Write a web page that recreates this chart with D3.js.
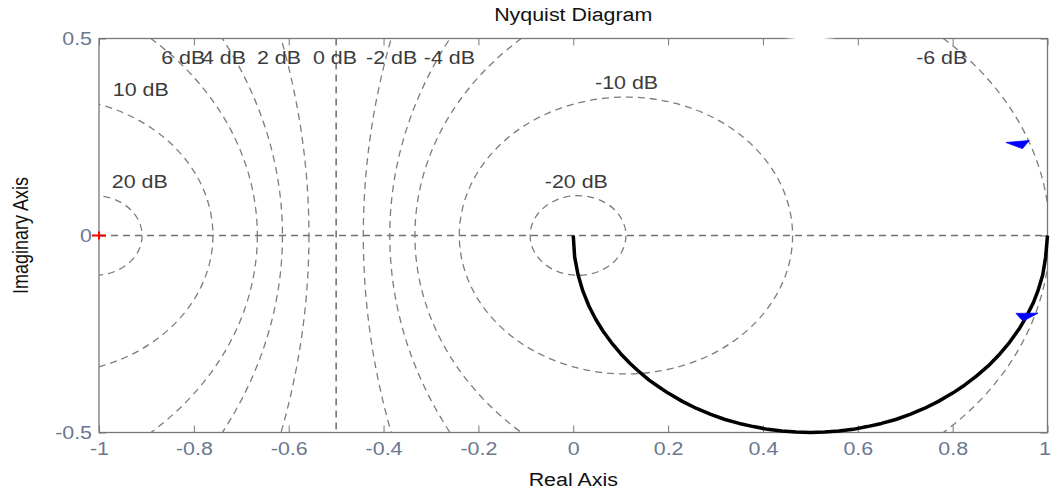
<!DOCTYPE html>
<html>
<head>
<meta charset="utf-8">
<script src="https://cdn.jsdelivr.net/npm/d3@7"></script>
<style>
  body { margin: 0; background: #fff; }
  svg { display: block; }
  text { font-family: "Liberation Sans", Arial, sans-serif; }
</style>
</head>
<body>
<svg id="chart" width="1051" height="495"></svg>
<script>
// Nyquist diagram with M-circle grid (constant closed-loop gain, dB)

// grid levels
const mCircleDb = [20, 10, 6, 4, 2, 0, -2, -4, -6, -10, -20];
const mCircleLabels = ['20 dB', '10 dB', '6 dB', '4 dB', '2 dB', '0 dB', '-2 dB', '-4 dB', '-6 dB', '-10 dB', '-20 dB'];
// where each label sits (left/middle of the text, in axis units)
const labelRe = [-0.973, -0.971, -0.869, -0.783, -0.667, -0.549, -0.437, -0.315, 0.723, 0.046, -0.060];
const labelIm = [0.136, 0.369, 0.451, 0.451, 0.451, 0.451, 0.451, 0.451, 0.451, 0.387, 0.136];

// frequency response (positive frequencies)
const curveRe = [0, 0.003, 0.01, 0.02, 0.033, 0.047, 0.063, 0.08, 0.1, 0.12, 0.14, 0.16, 0.18, 0.2,
                 0.23, 0.26, 0.29, 0.32, 0.35, 0.38, 0.41, 0.44, 0.47, 0.5, 0.53, 0.56, 0.59, 0.62,
                 0.65, 0.68, 0.71, 0.74, 0.77, 0.8, 0.825, 0.85, 0.875, 0.9, 0.92, 0.94, 0.955,
                 0.97, 0.98, 0.99, 0.996, 1.0];
const curveIm = [0, -0.055, -0.099, -0.14, -0.179, -0.212, -0.243, -0.271, -0.3, -0.325, -0.347, -0.367, -0.384, -0.4,
                 -0.421, -0.439, -0.454, -0.467, -0.477, -0.485, -0.492, -0.496, -0.499, -0.5, -0.499, -0.496, -0.492, -0.485,
                 -0.477, -0.467, -0.454, -0.439, -0.421, -0.4, -0.38, -0.357, -0.331, -0.3, -0.271, -0.2375, -0.207,
                 -0.171, -0.14, -0.0995, -0.055, 0];

// direction arrows (centre points)
const arrowRe = [0.9405, 0.954];
const arrowIm = [0.2325, -0.204];
const arrowShapes = [
  [[-13.3, -1.4], [10, -3.4], [3.2, 4.7]],
  [[-9.7, -2.5], [12.3, -2.7], [-2.7, 5.2]]
];

// critical point
const critRe = -1, critIm = 0;

const xTicks = [-1, -0.8, -0.6, -0.4, -0.2, 0, 0.2, 0.4, 0.6, 0.8, 1];
const yTicks = [-0.5, 0, 0.5];

const SX = 1.19;               // the source render is stretched horizontally
const pl = 99, pr = 1047.5, pt = 38.5, pb = 432.5;

const x = d3.scaleLinear().domain([-1, 1]).range([pl, pr]);
const y = d3.scaleLinear().domain([-0.5, 0.5]).range([pb, pt]);
const kx = (pr - pl) / 2, ky = pb - pt;

const svg = d3.select('#chart');

svg.append('defs').append('clipPath').attr('id', 'plot')
  .append('rect').attr('x', pl).attr('y', pt)
  .attr('width', pr - pl).attr('height', pb - pt);

const grid = svg.append('g').attr('clip-path', 'url(#plot)')
  .attr('fill', 'none').attr('stroke-dasharray', '7,5');

// real axis
grid.append('line')
  .attr('x1', pl).attr('x2', pr).attr('y1', y(0)).attr('y2', y(0))
  .attr('stroke', '#707070').attr('stroke-width', 1.3);

mCircleDb.forEach(db => {
  if (db === 0) {
    grid.append('line')
      .attr('x1', x(-0.5)).attr('x2', x(-0.5)).attr('y1', pt).attr('y2', pb)
      .attr('stroke', '#555').attr('stroke-width', 1.3);
    return;
  }
  const m = Math.pow(10, db / 20), m2 = m * m;
  const c = -m2 / (m2 - 1), r = Math.abs(m / (m2 - 1));
  grid.append('ellipse')
    .attr('cx', x(c)).attr('cy', y(0))
    .attr('rx', r * kx).attr('ry', r * ky)
    .attr('stroke', '#7c7c7c').attr('stroke-width', 1.3);
});

// labels for the grid
svg.append('g').attr('fill', '#3c3c3c').attr('font-size', 18)
  .selectAll('text').data(mCircleLabels).join('text')
  .attr('transform', (d, i) => `translate(${x(labelRe[i])},${y(labelIm[i])}) scale(${SX},1)`)
  .attr('dy', '0.35em')
  .text(d => d);

// axes box and ticks
function styleAxis(g, hideLabels) {
  g.select('.domain').remove();
  g.selectAll('.tick line').attr('stroke', '#777');
  g.selectAll('.tick text')
    .attr('fill', '#6a7890').attr('font-size', 18)
    .attr('font-family', '"Liberation Sans", Arial, sans-serif');
  if (hideLabels) g.selectAll('.tick text').remove();
}

const fmt = d => String(d);

const xb = svg.append('g').attr('transform', `translate(0,${pb})`)
  .call(d3.axisBottom(x).tickValues(xTicks).tickFormat(fmt).tickSize(-7).tickPadding(10));
styleAxis(xb, false);
xb.selectAll('.tick text').attr('transform', `scale(${SX},1)`)
  .attr('x', d => d === 1 ? -3 / SX : 0);

svg.append('g').attr('transform', `translate(0,${pt})`)
  .call(d3.axisTop(x).tickValues(xTicks).tickSize(-7)).call(g => styleAxis(g, true));

const yl = svg.append('g').attr('transform', `translate(${pl},0)`)
  .call(d3.axisLeft(y).tickValues(yTicks).tickFormat(fmt).tickSize(-7).tickPadding(7));
styleAxis(yl, false);
yl.selectAll('.tick text').attr('x', -7 / SX).attr('transform', `scale(${SX},1)`);

svg.append('g').attr('transform', `translate(${pr},0)`)
  .call(d3.axisRight(y).tickValues(yTicks).tickSize(-7)).call(g => styleAxis(g, true));

svg.append('rect')
  .attr('x', pl).attr('y', pt).attr('width', pr - pl).attr('height', pb - pt)
  .attr('fill', 'none').attr('stroke', '#777').attr('stroke-width', 1.3);

// faded patch on the top edge of the source image
const fade = svg.select('defs').append('linearGradient').attr('id', 'fade');
[[0, 0], [0.25, 1], [0.75, 1], [1, 0]].forEach(([o, a]) =>
  fade.append('stop').attr('offset', o).attr('stop-color', '#fff').attr('stop-opacity', a));
svg.append('rect').attr('x', 784).attr('y', pt - 1.5).attr('width', 52).attr('height', 3)
  .attr('fill', 'url(#fade)');

// response curve
const line = d3.line()
  .x((d, i) => x(curveRe[i]))
  .y((d, i) => y(curveIm[i]));

svg.append('path')
  .datum(curveRe)
  .attr('d', line)
  .attr('fill', 'none').attr('stroke', '#000')
  .attr('stroke-width', 3.5).attr('stroke-linejoin', 'round');

svg.append('g').selectAll('polygon').data(arrowRe).join('polygon')
  .attr('points', (d, i) => arrowShapes[i]
    .map(([dx, dy]) => `${x(arrowRe[i]) + dx},${y(arrowIm[i]) + dy}`).join(' '))
  .attr('fill', '#0000ff').attr('stroke', '#0000ff').attr('stroke-width', 0.8);

svg.append('path')
  .attr('d', `M${x(critRe) - 7},${y(critIm)}H${x(critRe) + 7}M${x(critRe)},${y(critIm) - 4}V${y(critIm) + 4}`)
  .attr('stroke', '#ff0000').attr('stroke-width', 2);

// titles
svg.append('text')
  .attr('transform', `translate(${(pl + pr) / 2},${21}) scale(${SX},1)`)
  .attr('text-anchor', 'middle').attr('font-size', 18).attr('fill', '#111')
  .text('Nyquist Diagram');

svg.append('text')
  .attr('transform', `translate(${(pl + pr) / 2},${486}) scale(${SX},1)`)
  .attr('text-anchor', 'middle').attr('font-size', 18).attr('fill', '#111')
  .text('Real Axis');

svg.append('text')
  .attr('transform', `translate(${28},${(pt + pb) / 2}) scale(${SX},1) rotate(-90)`)
  .attr('text-anchor', 'middle').attr('font-size', 18).attr('fill', '#111')
  .text('Imaginary Axis');
</script>
</body>
</html>
